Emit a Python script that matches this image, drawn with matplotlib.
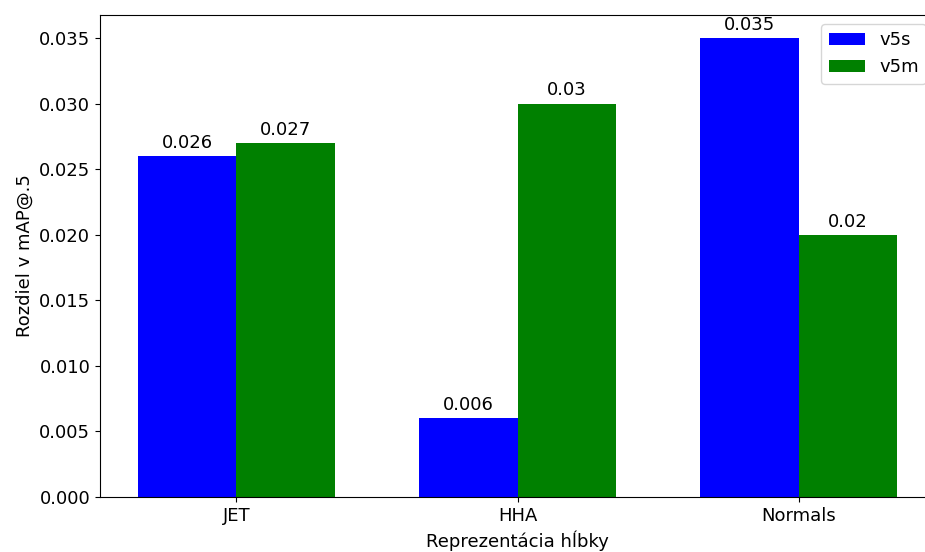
import numpy as np
import matplotlib
matplotlib.use("Agg")
import matplotlib.pyplot as plt

# data
categories = ['JET', 'HHA', 'Normals']
v5s = [0.026, 0.006, 0.035]
v5m = [0.027, 0.03, 0.02]

plt.rcParams['font.size'] = 13

fig = plt.figure(figsize=(9.25, 5.52), dpi=100)
ax = fig.add_axes([100/925, 1 - 497/552, 835/925, 482/552])

x = np.arange(len(categories))
width = 0.35

b1 = ax.bar(x - width/2, v5s, width, label='v5s', color='blue')
b2 = ax.bar(x + width/2, v5m, width, label='v5m', color='green')
ax.bar_label(b1, padding=3)
ax.bar_label(b2, padding=3)

ax.set_xticks(x)
ax.set_xticklabels(categories)
ax.set_xlabel('Reprezentácia hĺbky')
ax.set_ylabel('Rozdiel v mAP@.5')
ax.legend(loc='upper right')

fig.savefig('out.png', dpi=100)
